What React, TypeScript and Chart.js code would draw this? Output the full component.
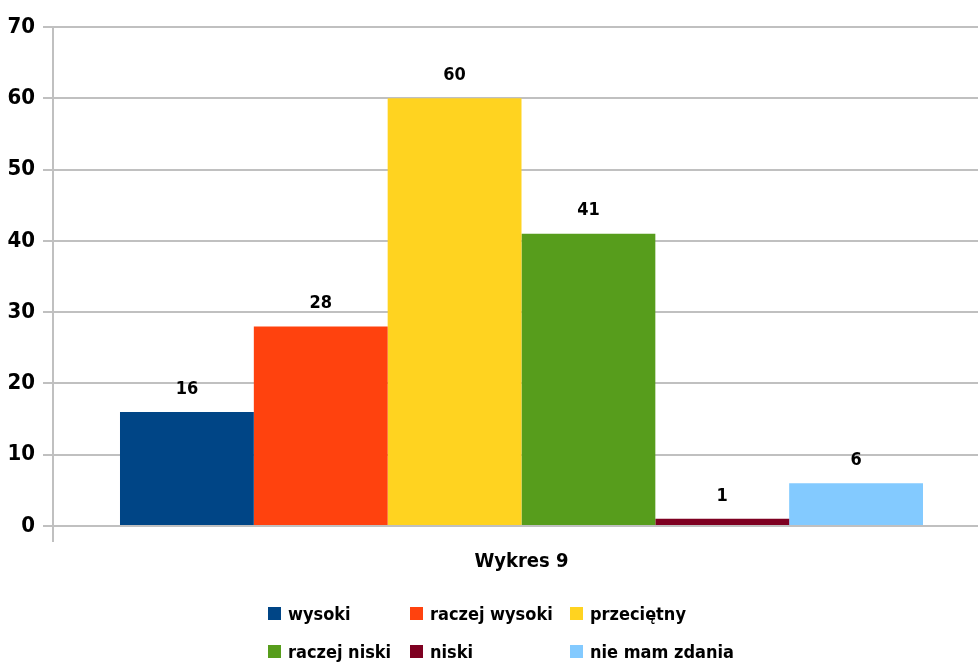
import React, { useEffect, useRef } from "react";
import { Chart, registerables } from "chart.js";

Chart.register(...registerables);

const categories = ["Wykres 9"];
const seriesNames = ["wysoki", "raczej wysoki", "przeciętny", "raczej niski", "niski", "nie mam zdania"];
const seriesValues = [16, 28, 60, 41, 1, 6];
const seriesColors = ["#004586", "#ff420e", "#ffd320", "#579d1c", "#7e0021", "#83caff"];
const yTicks = [0, 10, 20, 30, 40, 50, 60, 70];

const FONT = "'DejaVu Sans Condensed', 'DejaVu Sans', sans-serif";

const valueLabels = {
  id: "valueLabels",
  afterDatasetsDraw(chart: any) {
    const ctx = chart.ctx;
    ctx.save();
    ctx.fillStyle = "#000";
    ctx.font = `bold 18px ${FONT}`;
    ctx.textAlign = "center";
    ctx.textBaseline = "bottom";
    chart.data.datasets.forEach((ds: any, i: number) => {
      const meta = chart.getDatasetMeta(i);
      meta.data.forEach((bar: any, j: number) => {
        ctx.fillText(String(ds.data[j]), bar.x, bar.y - 14);
      });
    });
    ctx.restore();
  },
};

export default function App() {
  const ref = useRef<HTMLCanvasElement>(null);
  useEffect(() => {
    document.body.style.margin = "0";
    const chart = new Chart(ref.current!, {
      type: "bar",
      data: {
        labels: categories,
        datasets: seriesNames.map((name, i) => ({
          label: name,
          data: [seriesValues[i]],
          backgroundColor: seriesColors[i],
          borderWidth: 0,
          barPercentage: 1,
          categoryPercentage: 0.857,
        })),
      },
      options: {
        responsive: false,
        animation: false,
        devicePixelRatio: 1,
        layout: { padding: { top: 27, right: 0, bottom: 80, left: 0 } },
        plugins: {
          legend: { display: false },
          tooltip: { enabled: false },
        },
        scales: {
          x: {
            grid: {
              display: true,
              drawOnChartArea: false,
              drawTicks: true,
              tickLength: 16,
              color: "#c0c0c0",
              lineWidth: 2,
            },
            border: { display: false },
            ticks: {
              color: "#000",
              font: { family: FONT, weight: "bold", size: 20 },
              padding: 8,
            },
          },
          y: {
            min: 0,
            max: 70,
            afterFit(scale: any) {
              scale.width = 53;
            },
            afterBuildTicks(scale: any) {
              scale.ticks = yTicks.map((v) => ({ value: v }));
            },
            grid: {
              color: "#c0c0c0",
              lineWidth: 2,
              tickLength: 10,
            },
            border: { display: true, color: "#c0c0c0", width: 2 },
            ticks: {
              color: "#000",
              font: { family: FONT, weight: "bold", size: 22 },
              padding: 8,
            },
          },
        },
      },
      plugins: [valueLabels],
    });
    return () => chart.destroy();
  }, []);

  const cols = [268, 410, 570];
  const rows = [613, 651];

  return (
    <div style={{ position: "fixed", left: 0, top: 0, width: 978, height: 662, background: "#fff", overflow: "hidden" }}>
      <canvas ref={ref} width={990} height={662} style={{ display: "block" }} />
      {seriesNames.map((name, i) => {
        const c = i % 3;
        const r = Math.floor(i / 3);
        return (
          <div
            key={name}
            style={{
              position: "absolute",
              left: cols[c],
              top: rows[r] - 12,
              height: 24,
              display: "flex",
              alignItems: "center",
              fontFamily: FONT,
              fontWeight: "bold",
              fontSize: 18,
              color: "#000",
              whiteSpace: "nowrap",
            }}
          >
            <span
              style={{
                display: "inline-block",
                width: 13,
                height: 13,
                background: seriesColors[i],
                marginRight: 7,
              }}
            />
            {name}
          </div>
        );
      })}
    </div>
  );
}
